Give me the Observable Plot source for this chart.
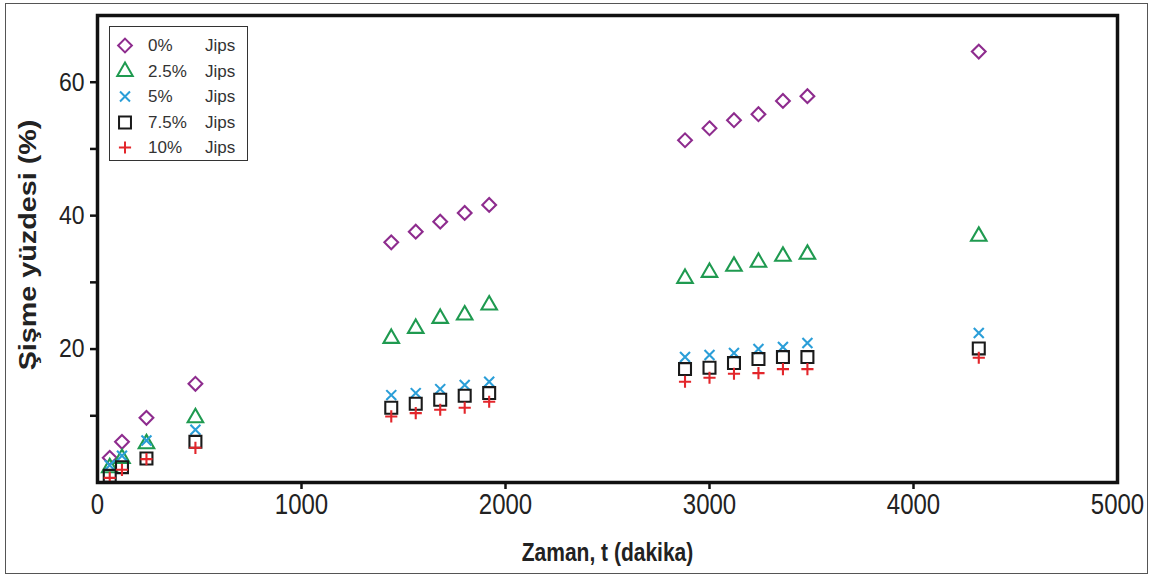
<!DOCTYPE html>
<html>
<head>
<meta charset="utf-8">
<script src="https://cdn.jsdelivr.net/npm/d3@7"></script>
<script src="https://cdn.jsdelivr.net/npm/@observablehq/plot@0.6"></script>
<style>
  body { margin: 0; background: #fff; }
  #wrap { position: relative; width: 1152px; height: 579px; overflow: hidden; }
  #border { position: absolute; left: 5px; top: 3px; width: 1143px; height: 571px;
            border: 1.5px solid #555; box-sizing: border-box; pointer-events: none; }
  #legend { position: absolute; left: 109px; top: 26px; width: 139px; height: 135px;
            border: 1.5px solid #333; box-sizing: border-box; background: #fff;
            font-family: "Liberation Sans", Arial, sans-serif; font-size: 17px; color: #333;
            padding-top: 6px; }
  .row { position: relative; height: 25.5px; }
  .row svg { position: absolute; left: 2px; top: 0; }
  .row .pct { position: absolute; left: 38px; top: 3px; }
  .row .gyp { position: absolute; left: 95px; top: 3px; }
</style>
</head>
<body>
<div id="wrap">
  <div id="chart"></div>
  <div id="legend"></div>
  <div id="border"></div>
</div>
<script>
// Swelling percentage over time for five gypsum contents
const time = [60, 120, 240, 480, 1440, 1560, 1680, 1800, 1920, 2880, 3000, 3120, 3240, 3360, 3480, 4320];
const gyp0  = [3.7, 6.1, 9.7, 14.8, 36.0, 37.6, 39.1, 40.4, 41.6, 51.3, 53.1, 54.3, 55.2, 57.2, 57.9, 64.6];
const gyp25 = [2.2, 3.6, 5.8, 9.7, 21.6, 23.1, 24.6, 25.1, 26.6, 30.6, 31.5, 32.4, 33.0, 33.9, 34.2, 36.9];
const gyp5  = [2.6, 4.0, 6.3, 7.9, 13.1, 13.4, 14.0, 14.6, 15.1, 18.8, 19.1, 19.4, 20.0, 20.3, 20.9, 22.4];
const gyp75 = [1.0, 2.3, 3.6, 6.1, 11.2, 11.8, 12.4, 13.0, 13.4, 17.0, 17.2, 17.9, 18.5, 18.8, 18.8, 20.1];
const gyp10 = [0.7, 1.9, 3.5, 5.2, 9.9, 10.4, 10.9, 11.2, 12.1, 15.1, 15.7, 16.3, 16.4, 17.0, 17.0, 18.7];

const seriesLabels = ["0%", "2.5%", "5%", "7.5%", "10%"];
const seriesValues = [gyp0, gyp25, gyp5, gyp75, gyp10];
const unitLabel = "Jips";

const xTicks = [0, 1000, 2000, 3000, 4000, 5000];
const yTicks = [10, 20, 30, 40, 50, 60];
const yLabelled = [20, 40, 60];

const xTitle = "Zaman, t (dakika)";
const yTitle = "Şişme yüzdesi (%)";

// marker style per series
const styles = [
  {symbol: "diamond2",  stroke: "#8e2c8e", r: 6.2},
  {symbol: "triangle2", stroke: "#1f9a50", r: 7.4},
  {symbol: "times",     stroke: "#2a9ed8", r: 4.6},
  {symbol: "square2",   stroke: "#1a1a1a", r: 7.6},
  {symbol: "plus",      stroke: "#e3262b", r: 4.0}
];

const series = seriesLabels.map((label, i) =>
  time.map((t, j) => ({label, t, v: seriesValues[i][j]})));

const font = "'Liberation Sans', Arial, sans-serif";

const chart = Plot.plot({
  width: 1152,
  height: 579,
  marginLeft: 97,
  marginRight: 35,
  marginTop: 15,
  marginBottom: 97,
  style: {fontFamily: font, background: "transparent", color: "#222"},
  x: {domain: [0, 5000]},
  y: {domain: [0, 70]},
  marks: [
    Plot.axisX({ticks: xTicks.filter(d => d > 0 && d < 5000), tickSize: 7, tickFormat: () => "",
                strokeWidth: 2.5, stroke: "#111", label: null}),
    Plot.axisX({ticks: xTicks, tickSize: 0, tickPadding: 12, fontSize: 24, tickFormat: d => String(d),
                label: null}),
    Plot.axisY({ticks: yTicks, tickSize: 7, tickPadding: 6, fontSize: 23, strokeWidth: 2.5, stroke: "#111",
                tickFormat: d => yLabelled.includes(d) ? String(d) : "", label: null}),
    ...series.map((data, i) => Plot.dot(data, {
      x: "t", y: "v", symbol: () => styles[i].symbol, stroke: styles[i].stroke,
      r: styles[i].r, strokeWidth: 2.1, fill: "none"
    })),
    Plot.frame({stroke: "#111", strokeWidth: 3.5}),
    Plot.text([yTitle], {frameAnchor: "left", dx: -69, dy: -4, rotate: -90, text: d => d,
                         textAnchor: "middle", lineAnchor: "middle",
                         fontSize: 23, fontWeight: "bold", fill: "#222"}),
    Plot.text([xTitle], {frameAnchor: "bottom", dy: 70, text: d => d,
                         textAnchor: "middle", lineAnchor: "middle",
                         fontSize: 21, fontWeight: "bold", fill: "#222"})
  ]
});
document.getElementById("chart").appendChild(chart);

// the figure's lettering is tall and narrow: stretch each text about its own centre
function stretchText(sel, sx, sy) {
  sel.each(function() {
    const b = this.getBBox();
    const cx = b.x + b.width / 2, cy = b.y + b.height / 2;
    const t = this.getAttribute("transform") || "";
    this.setAttribute("transform",
      `${t} translate(${cx},${cy}) scale(${sx},${sy}) translate(${-cx},${-cy})`);
  });
}
const svg = d3.select(chart);
const allText = svg.selectAll("text");
stretchText(svg.selectAll('g[aria-label="x-axis tick label"] text'), 1, 1.25);
stretchText(svg.selectAll('g[aria-label="y-axis tick label"] text'), 1, 1.12);
stretchText(allText.filter(function() { return this.textContent === xTitle; }), 1, 1.2);
stretchText(allText.filter(function() { return this.textContent === yTitle; }), 1.25, 1);

// legend rows built with the same symbol shapes
const legend = d3.select("#legend");
const symbolMap = {diamond2: d3.symbolDiamond2, triangle2: d3.symbolTriangle2, times: d3.symbolTimes,
                   square2: d3.symbolSquare2, plus: d3.symbolPlus};
seriesLabels.forEach((label, i) => {
  const s = styles[i];
  const row = legend.append("div").attr("class", "row");
  const sym = row.append("svg").attr("width", 26).attr("height", 25);
  sym.append("path")
    .attr("transform", "translate(13,12.5)")
    .attr("d", d3.symbol(symbolMap[s.symbol], Math.PI * s.r * s.r)())
    .attr("fill", "none").attr("stroke", s.stroke).attr("stroke-width", 2);
  row.append("span").attr("class", "pct").text(label);
  row.append("span").attr("class", "gyp").text(unitLabel);
});
</script>
</body>
</html>
